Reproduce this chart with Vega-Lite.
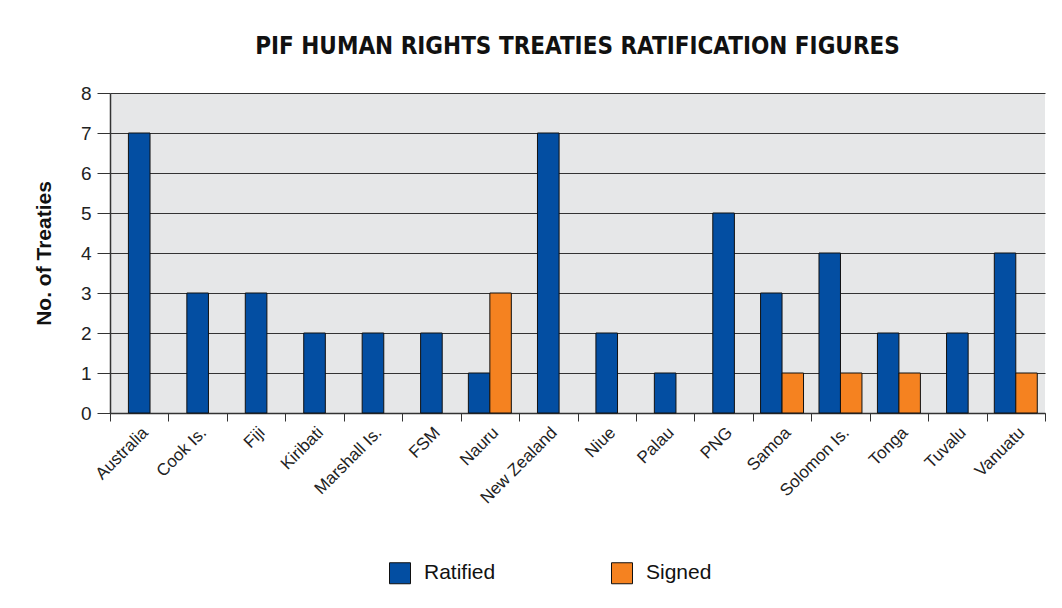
{
  "$schema": "https://vega.github.io/schema/vega-lite/v6.json",
  "width": 935,
  "height": 320,
  "autosize": "none",
  "padding": {"left": 110, "top": 93, "right": 17, "bottom": 195},
  "background": "white",
  "title": {
    "text": "PIF HUMAN RIGHTS TREATIES RATIFICATION FIGURES",
    "font": "DejaVu Sans Condensed",
    "fontSize": 24,
    "fontWeight": "bold",
    "color": "#111111",
    "offset": 25,
    "anchor": "middle"
  },
  "data": {
    "values": [
      {"country": "Australia", "Ratified": 7, "Signed": 0},
      {"country": "Cook Is.", "Ratified": 3, "Signed": 0},
      {"country": "Fiji", "Ratified": 3, "Signed": 0},
      {"country": "Kiribati", "Ratified": 2, "Signed": 0},
      {"country": "Marshall Is.", "Ratified": 2, "Signed": 0},
      {"country": "FSM", "Ratified": 2, "Signed": 0},
      {"country": "Nauru", "Ratified": 1, "Signed": 3},
      {"country": "New Zealand", "Ratified": 7, "Signed": 0},
      {"country": "Niue", "Ratified": 2, "Signed": 0},
      {"country": "Palau", "Ratified": 1, "Signed": 0},
      {"country": "PNG", "Ratified": 5, "Signed": 0},
      {"country": "Samoa", "Ratified": 3, "Signed": 1},
      {"country": "Solomon Is.", "Ratified": 4, "Signed": 1},
      {"country": "Tonga", "Ratified": 2, "Signed": 1},
      {"country": "Tuvalu", "Ratified": 2, "Signed": 0},
      {"country": "Vanuatu", "Ratified": 4, "Signed": 1}
    ]
  },
  "encoding": {
    "x": {
      "field": "country",
      "type": "nominal",
      "sort": null,
      "scale": {
        "domain": ["Australia", "Cook Is.", "Fiji", "Kiribati", "Marshall Is.", "FSM", "Nauru", "New Zealand", "Niue", "Palau", "PNG", "Samoa", "Solomon Is.", "Tonga", "Tuvalu", "Vanuatu"],
        "paddingInner": 0,
        "paddingOuter": 0
      },
      "axis": {
        "title": null,
        "tickBand": "extent",
        "labelAngle": -45,
        "labelFont": "Liberation Sans",
        "labelFontSize": 17,
        "labelColor": "#222222",
        "labelPadding": 3,
        "tickSize": 8,
        "tickColor": "#333333",
        "domainColor": "#333333",
        "domainWidth": 1.5
      }
    },
    "y": {
      "type": "quantitative",
      "scale": {"domain": [0, 8], "nice": false},
      "axis": {
        "title": "No. of Treaties",
        "values": [0, 1, 2, 3, 4, 5, 6, 7, 8],
        "grid": true,
        "gridColor": "#333333",
        "gridWidth": 1,
        "tickSize": 13,
        "tickColor": "#333333",
        "domainColor": "#333333",
        "domainWidth": 1.5,
        "labelFont": "Liberation Sans",
        "labelFontSize": 19,
        "labelColor": "#222222",
        "labelPadding": 6,
        "titleFont": "Liberation Sans",
        "titleFontSize": 21,
        "titleFontWeight": "bold",
        "titleColor": "#111111",
        "titlePadding": 26
      }
    },
    "color": {
      "type": "nominal",
      "scale": {"domain": ["Ratified", "Signed"], "range": ["#034ea2", "#f58220"]},
      "legend": {
        "title": null,
        "orient": "none",
        "direction": "horizontal",
        "legendX": 279,
        "legendY": 469,
        "padding": 0,
        "symbolType": "square",
        "symbolSize": 441,
        "symbolStrokeColor": "#111111",
        "symbolStrokeWidth": 1,
        "symbolOpacity": 1,
        "labelFont": "Liberation Sans",
        "labelFontSize": 21,
        "labelColor": "#111111",
        "labelOffset": 13,
        "columnPadding": 113
      }
    }
  },
  "layer": [
    {
      "transform": [{"filter": "datum.Signed == 0"}],
      "mark": {"type": "bar", "width": {"band": 0.37}, "stroke": "#111111", "strokeWidth": 1},
      "encoding": {
        "y": {"field": "Ratified"},
        "color": {"datum": "Ratified"}
      }
    },
    {
      "transform": [
        {"filter": "datum.Signed > 0"},
        {"fold": ["Ratified", "Signed"], "as": ["status", "count"]}
      ],
      "mark": {"type": "bar", "stroke": "#111111", "strokeWidth": 1},
      "encoding": {
        "y": {"field": "count"},
        "xOffset": {"field": "status", "type": "nominal", "scale": {"domain": ["Ratified", "Signed"], "paddingInner": 0, "paddingOuter": 0.36}},
        "color": {"field": "status"}
      }
    }
  ],
  "config": {
    "view": {"fill": "#e6e7e8", "stroke": null}
  }
}
